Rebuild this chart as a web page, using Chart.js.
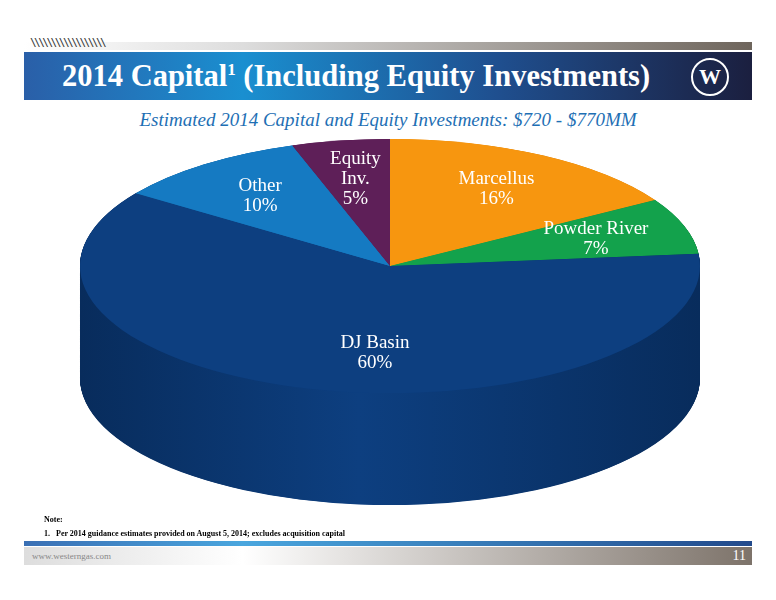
<!DOCTYPE html>
<html><head><meta charset="utf-8">
<script src="https://cdn.jsdelivr.net/npm/chart.js@4"></script>
<style>
body{margin:0;width:776px;height:600px;overflow:hidden;background:#fff;font-family:"Liberation Serif",serif;position:relative}
#top{position:absolute;left:24px;top:42px;width:728px;height:8px;background:linear-gradient(90deg,#fff 0%,#ddd 30%,#6e655c 100%)}
#hatch{position:absolute;left:30px;top:36px;font:11px "DejaVu Sans Mono";letter-spacing:-2.5px;color:#333}
#band{position:absolute;left:24px;top:52px;width:728px;height:48px;background:linear-gradient(90deg,#2a5fa8 0%,#1a8fd0 30%,#1f4f8f 65%,#1b1f3f 100%);color:#fff;font:bold 30.5px "Liberation Serif",serif;line-height:48px;padding-left:38px;box-sizing:border-box}
#band sup{font-size:17px;line-height:0}
#logo{position:absolute;left:691px;top:58px;width:34px;height:34px;border:2px solid #fff;border-radius:50%;color:#fff;font:bold 22px "Liberation Serif";text-align:center;line-height:34px}
#sub{position:absolute;left:0;width:776px;top:109px;text-align:center;color:#1e6fb4;font:italic 19px "Liberation Serif",serif}
canvas{position:absolute;left:0;top:0}
#note{position:absolute;left:44px;top:513px;font:bold 8px "Liberation Serif";line-height:14px}
#fline{position:absolute;left:24px;top:541px;width:728px;height:5px;background:linear-gradient(90deg,#3a6fb4,#4aa6de 30%,#224a8c)}
#foot{position:absolute;left:24px;top:547px;width:728px;height:18px;background:linear-gradient(90deg,#ddd 0%,#fff 30%,#7d736a 100%);font:9px "Liberation Serif";color:#888;line-height:18px;padding-left:8px;box-sizing:border-box}
#pg{position:absolute;right:30px;top:548px;color:#fff;font:14px "Liberation Serif"}
</style></head><body>
<div id="top"></div><div id="hatch">\\\\\\\\\\\\\\\\\\</div>
<div id="band">2014 Capital<sup>1</sup> (Including Equity Investments)</div>
<div id="logo">W</div>
<div id="sub">Estimated 2014 Capital and Equity Investments: $720 - $770MM</div>
<canvas id="pie" width="776" height="620" style="width:776px;height:620px"></canvas>
<div id="note">Note:<br>1.&nbsp;&nbsp; Per 2014 guidance estimates provided on August 5, 2014; excludes acquisition capital</div>
<div id="fline"></div>
<div id="foot">www.westerngas.com</div>
<div id="pg">11</div>
<script>
// 2014 capital split
var categories = ['Marcellus', 'Powder River', 'DJ Basin', 'Other', 'Equity Inv.'];
var values = [16, 7, 60, 10, 5];
var colors = ['#f7960f', '#13a24c', '#0d3f80', '#157ac2', '#5e1f58'];
var sideColors = ['#b86a05', '#0b6e33', '#082c5c', '#0c4f82', '#3a1037'];

var SY = 0.41, DEPTH = 112, CX = 390, CY = 266;

function setView(chart) {
    var ctx = chart.ctx, a = chart.chartArea;
    var ox = (a.left + a.right) / 2, oy = (a.top + a.bottom) / 2;
    ctx.translate(CX, CY);
    ctx.scale(1, SY);
    ctx.translate(-ox, -oy);
}

var pie3d = {
    id: 'pie3d',
    beforeDatasetsDraw: function (chart) {
        var ctx = chart.ctx;
        var arcs = chart.getDatasetMeta(0).data;
        ctx.save();
        setView(chart);
        for (var d = DEPTH / SY; d > 0; d -= 1) {
            arcs.forEach(function (arc, i) {
                var g = ctx.createLinearGradient(arc.x - arc.outerRadius, 0, arc.x + arc.outerRadius, 0);
                g.addColorStop(0, sideColors[i]);
                g.addColorStop(0.45, colors[i]);
                g.addColorStop(1, sideColors[i]);
                ctx.beginPath();
                ctx.moveTo(arc.x, arc.y + d);
                ctx.arc(arc.x, arc.y + d, arc.outerRadius, arc.startAngle, arc.endAngle);
                ctx.closePath();
                ctx.fillStyle = g;
                ctx.fill();
            });
        }
        ctx.restore();
        ctx.save();
        setView(chart);
    },
    afterDatasetsDraw: function (chart) {
        chart.ctx.restore();
    },
    afterDraw: function (chart) {
        var ctx = chart.ctx;
        var arcs = chart.getDatasetMeta(0).data;
        ctx.save();
        ctx.font = '19px "Liberation Serif", serif';
        ctx.textAlign = 'center';
        ctx.fillStyle = '#fff';
        arcs.forEach(function (arc, i) {
            var mid = (arc.startAngle + arc.endAngle) / 2;
            var f = 0.7;
            var x = CX + Math.cos(mid) * arc.outerRadius * f;
            var y = CY + Math.sin(mid) * arc.outerRadius * f * SY;
            if (i === 2) x += 40; // DJ label sits nearer the middle
            var lines = categories[i] === 'Equity Inv.' ? ['Equity', 'Inv.'] : [categories[i]];
            lines.push(values[i] + '%');
            lines.forEach(function (t, k) {
                ctx.fillText(t, x, y + (k - (lines.length - 1) / 2) * 20 + 6);
            });
        });
        ctx.restore();
    }
};

new Chart(document.getElementById('pie'), {
    type: 'pie',
    data: {
        labels: categories,
        datasets: [{ data: values, backgroundColor: colors, borderWidth: 0 }]
    },
    options: {
        responsive: false,
        animation: false,
        layout: { padding: 0 },
        plugins: { legend: { display: false }, tooltip: { enabled: false } }
    },
    plugins: [pie3d]
});
</script>
</body></html>
